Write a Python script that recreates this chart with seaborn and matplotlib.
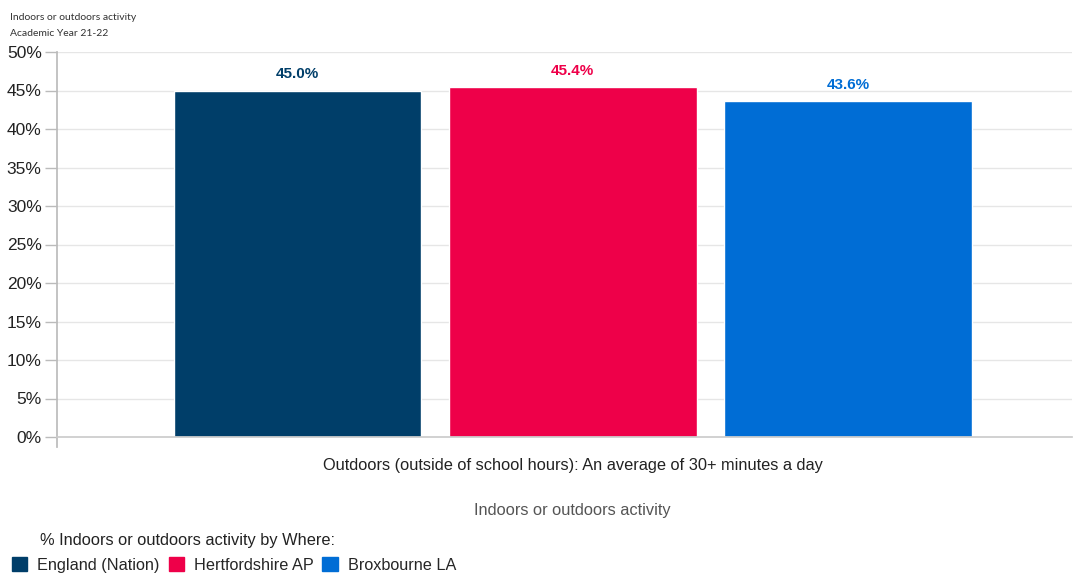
import matplotlib
matplotlib.use("Agg")
import matplotlib.pyplot as plt
import seaborn as sns
import pandas as pd
from matplotlib.patches import Patch

category = ["Outdoors (outside of school hours): An average of 30+ minutes a day"]
where = ["England (Nation)", "Hertfordshire AP", "Broxbourne LA"]
values = [45.0, 45.4, 43.6]
colors = ["#003e69", "#ee0049", "#006dd5"]
yticks = [0, 5, 10, 15, 20, 25, 30, 35, 40, 45, 50]

df = pd.DataFrame({"cat": category * len(where), "where": where, "value": values})

sns.set_theme(style="white")
plt.rcParams['font.family'] = ['Liberation Sans', 'DejaVu Sans']

fig = plt.figure(figsize=(10.75, 5.74), dpi=100)
ax = fig.add_axes([57/1075, 1 - 437/574, (1072-57)/1075, (437-52)/574])

sns.barplot(data=df, x="cat", y="value", hue="where", palette=colors,
            width=0.8, gap=0.1, ax=ax, legend=False, saturation=1)

ax.set_ylim(0, 50)
ax.set_xlim(-0.5, 0.484)
ax.set_yticks(yticks)
ax.set_yticklabels([f"{t}%" for t in yticks], fontsize=12.5, color="#222222")
ax.yaxis.grid(True, color="#e6e6e6", linewidth=1)
ax.set_axisbelow(True)
for s in ["top", "right"]:
    ax.spines[s].set_visible(False)
ax.spines["left"].set_color("#bbbbbb")
ax.spines["bottom"].set_color("#cccccc")
ax.spines["left"].set_bounds(-1.3, 50)
ax.tick_params(axis="y", length=9, color="#bbbbbb", width=1, pad=2, left=True)
ax.tick_params(axis="x", length=0, pad=15)
ax.set_xticks([0])
ax.set_xticklabels(category, fontsize=11.75, color="#222222")
ax.set_xlabel("Indoors or outdoors activity", fontsize=11.75, color="#555555", labelpad=22)
ax.xaxis.label.set_x((572 - 57) / 1015)
ax.set_ylabel("")

for p, v, c in zip(ax.patches, values, colors):
    ax.text(p.get_x() + p.get_width()/2, v + 1.2, f"{v:.1f}%", ha="center", va="bottom",
            fontsize=11, fontweight="bold", color=c)

fig.text(10/1075, 1 - 17/574, "Indoors or outdoors activity", fontsize=7.5, color="#333333",
         va="center", family=["Lato", "DejaVu Sans"])
fig.text(10/1075, 1 - 34/574, "Academic Year 21-22", fontsize=7.5, color="#333333",
         va="center", family=["Lato", "DejaVu Sans"])

fig.text(40/1075, 1 - 540/574, "% Indoors or outdoors activity by Where:", fontsize=11.8,
         color="#222222", va="center")
handles = [Patch(facecolor=c, edgecolor=c) for c in colors]
fig.legend(handles, where, loc="center left", bbox_to_anchor=(12/1075, 1 - 565/574),
           ncol=3, frameon=False, fontsize=11.7, handlelength=0.95, handleheight=0.95,
           handletextpad=0.6, columnspacing=0.55, borderaxespad=0, borderpad=0)

fig.savefig("out.png", dpi=100)
